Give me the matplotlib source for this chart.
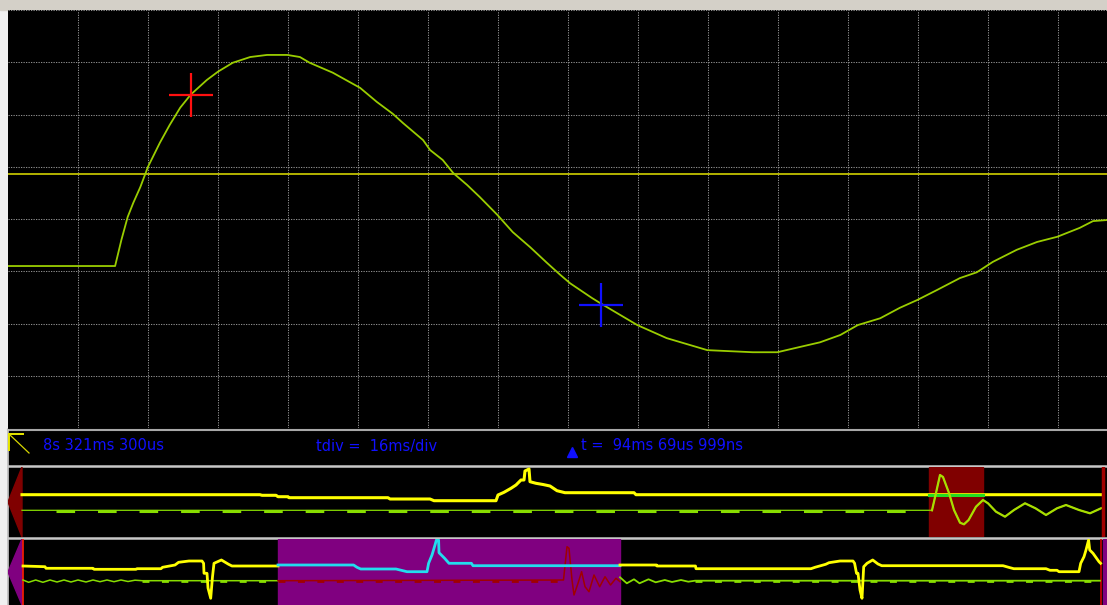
import matplotlib
matplotlib.use('Agg')
import matplotlib.pyplot as plt
from matplotlib.patches import Polygon, Rectangle

plt.rcParams['lines.scale_dashes'] = False

W, H = 1107, 605

# --- main trace (screen divisions, 16 ms/div) ---
main_x = [0, 1.53, 1.62, 1.71, 1.79, 1.89, 2.0, 2.17, 2.31, 2.46,
          2.61, 2.84, 3.0, 3.21, 3.46, 3.7, 3.99, 4.17, 4.31, 4.64,
          5.03, 5.27, 5.5, 5.64, 5.93, 6.03, 6.21, 6.36, 6.56, 6.74,
          6.99, 7.21, 7.46, 7.7, 7.89, 8.03, 8.34, 8.46, 8.99, 9.41,
          9.99, 10.64, 10.99, 11.31, 11.6, 11.89, 12.14, 12.46, 12.74, 12.99,
          13.27, 13.6, 13.84, 14.07, 14.41, 14.7, 14.99, 15.31, 15.5, 15.7]
main_y = [-0.90, -0.90, -0.40, 0.04, 0.31, 0.61, 1.00, 1.46, 1.80, 2.13,
          2.38, 2.66, 2.82, 2.99, 3.10, 3.14, 3.14, 3.10, 2.99, 2.80,
          2.51, 2.24, 2.01, 1.84, 1.51, 1.32, 1.13, 0.88, 0.65, 0.42,
          0.08, -0.25, -0.54, -0.84, -1.07, -1.23, -1.51, -1.61, -2.03, -2.28,
          -2.51, -2.55, -2.55, -2.45, -2.36, -2.22, -2.03, -1.90, -1.70, -1.55,
          -1.36, -1.13, -1.02, -0.82, -0.59, -0.44, -0.34, -0.17, -0.04, -0.02]
ref_level = 0.86
cursor_a = (2.61, 2.38)
cursor_b = (8.47, -1.65)
n_xdiv = 15.7

lbl_time = '8s 321ms 300us'
lbl_tdiv = 'tdiv =  16ms/div'
lbl_dt = 't =  94ms 69us 999ns'

# --- overview panel 1 (record position, level) ---
ov1_yel_x = [14, 252, 254, 268, 270, 280, 281, 380, 382, 422, 426, 488, 490, 496, 503, 508,
             513, 516, 517, 521, 522, 528, 535, 542, 549, 557, 626, 628, 1093]
ov1_yel_y = [42.3, 42.3, 41.7, 41.7, 40.3, 40.3, 39.3, 39.3, 38, 38, 36.3, 36.3, 42, 44.7, 48.7, 52,
             57, 57, 66, 68, 55.3, 53.7, 52.5, 51, 46.3, 44.3, 44.3, 42.3, 42.3]
ov1_grn_x = [14, 924, 928, 932, 935, 941, 946, 952, 956, 960.6, 968, 975, 980, 988, 997,
             1006, 1017, 1027.5, 1038, 1049, 1058, 1071, 1082, 1093]
ov1_grn_y = [26.7, 26.7, 44, 62, 60, 44, 27, 14.3, 12.7, 17, 30.3, 37, 33.7, 25.3, 20.3,
             27, 33.7, 28.7, 22, 28.7, 32, 27, 23.7, 28.7]
ov1_zoom = (921, 975)

# --- overview panel 2 ---
ov2_yel_a_x = [15, 37, 38, 85, 86, 128, 129, 153, 154.5, 167, 170.6, 181, 194, 195.6, 196, 199,
               200, 202.7, 204.5, 206, 213.4, 220.6, 224, 270]
ov2_yel_a_y = [39, 38.3, 36.7, 36.7, 35.7, 35.7, 36.3, 36.3, 37.7, 40, 42.7, 44, 44, 41.7, 31.7, 31.7,
               17, 6.7, 28.3, 41.7, 45, 40.7, 39, 39]
ov2_cyan_x = [270, 345.6, 349, 352.7, 388, 399, 419, 420.6, 424, 427, 428.4, 430.6, 431, 436.6,
              441, 463.4, 465, 612]
ov2_cyan_y = [40, 40, 37.7, 36, 36, 33.3, 33.3, 41.7, 50, 60, 65, 65, 52.3, 46.7,
              41.7, 41.7, 39.3, 39.3]
ov2_red_x = [270, 555.5, 559, 561, 564, 566, 570, 573.6, 577, 581, 586, 591.7, 597, 602.5, 608, 612]
ov2_red_y = [24.3, 25, 58.3, 56.7, 25, 10, 21.7, 33.3, 18.3, 13.3, 30, 18.3, 28.3, 20, 26.7, 23.3]
ov2_grn_a_x = [15, 20.6, 27.7, 34.9, 42, 49, 56, 63, 70, 78, 85, 92, 99, 106, 113, 120, 127, 134, 270]
ov2_grn_a_y = [25, 22.7, 25, 22.7, 25, 23, 25, 23, 25, 23, 25, 23.3, 25, 23.3, 25, 23.5, 24.8, 24.3, 24.3]
ov2_grn_b_x = [612, 618.8, 626, 631.5, 640.5, 647.7, 656.8, 664, 673, 680.3, 687, 1092]
ov2_grn_b_y = [27.7, 21.7, 25.7, 21.7, 25.7, 22.7, 25, 23, 25, 23.3, 24.3, 24.3]
ov2_yel_b_x = [612, 648.5, 649, 687.5, 688, 803, 807, 817.7, 821, 832, 845, 846.6, 848.5, 850, 852,
               854, 855.7, 859, 864.7, 870, 873.8, 995, 1002, 1005.8, 1038, 1042, 1049, 1051, 1071,
               1072.7, 1076, 1078, 1080.6, 1081.7, 1085, 1091, 1092.6]
ov2_yel_b_y = [40, 40, 39, 39, 36.3, 36.3, 37.7, 40.7, 42.3, 44, 44, 41.7, 31.7, 31.7, 15,
               6.7, 38.3, 41.7, 45, 41, 39.3, 39.3, 37.3, 36.3, 36.3, 34.7, 34.7, 33.3, 33.3,
               41.7, 48.3, 55, 65, 55, 51.7, 43.3, 41.7]
ov2_zoom = (270, 612)

fig = plt.figure(figsize=(W / 100, H / 100), dpi=100)
fig.patch.set_facecolor('#f0f0f0')


def px_axes(x0, y0, x1, y1):
    return fig.add_axes([x0 / W, 1 - y1 / H, (x1 - x0) / W, (y1 - y0) / H])


# background / frame in pixel coordinates
bg = fig.add_axes([0, 0, 1, 1])
bg.set_xlim(0, W)
bg.set_ylim(H, 0)
bg.axis('off')
bg.add_patch(Rectangle((0, 0), W, 10, color='#d4d0c8'))
bg.add_patch(Rectangle((8, 428), W, H - 428, color='black'))
bg.plot([8, W], [429.5, 429.5], color='#a8a8a8', lw=1.5)
bg.plot([8, W], [465.5, 465.5], color='#c8c8c8', lw=1.8)
bg.plot([8, W], [537.5, 537.5], color='#c8c8c8', lw=1.8)
bg.plot([7.5, 7.5], [430, H], color='#c8c8c8', lw=1.2)
# trigger corner mark
bg.plot([8.5, 23], [433.5, 433.5], color='#e8e800', lw=1.4)
bg.plot([8.5, 8.5], [433.5, 450], color='#e8e800', lw=1.4)
bg.plot([10, 29], [435, 453], color='#d8d800', lw=0.9)
bg.text(43, 446, lbl_time, color='#1010ff', fontsize=10.5, va='center', ha='left')
bg.text(316, 446, lbl_tdiv, color='#1010ff', fontsize=10.5, va='center', ha='left')
bg.plot([572], [452], marker='^', ms=7, color='#1010ff', ls='none')
bg.text(581, 446, lbl_dt, color='#1010ff', fontsize=10.5, va='center', ha='left')

# main scope screen
ax = px_axes(8, 10, W, 428)
ax.set_facecolor('black')
ax.set_xlim(0, n_xdiv)
ax.set_ylim(-4, 4)
for s in ax.spines.values():
    s.set_visible(False)
ax.set_xticks([])
ax.set_yticks([])
grid_kw = dict(color='#8c8c8c', lw=0.75, ls=(0, (0.9, 0.9)))
for k in range(1, 16):
    ax.axvline(k, **grid_kw)
for k in range(-3, 5):
    ax.axhline(k, **grid_kw)
ax.axhline(ref_level, color='#d0d000', lw=1.2)
ax.plot(main_x, main_y, color='#9acd00', lw=1.3)
ax.plot(*cursor_a, marker='+', ms=31, mew=1.6, color='#ff1010', ls='none')
ax.plot(*cursor_b, marker='+', ms=31, mew=1.6, color='#1010ff', ls='none')


def overview(y0, y1, tri_color):
    a = px_axes(8, y0, W, y1)
    a.set_facecolor('black')
    a.set_xlim(0, 1099)
    a.set_ylim(0, y1 - y0)
    a.axis('off')
    h = y1 - y0
    a.add_patch(Polygon([[0, h / 2], [14, 0], [14, h]], closed=True, color=tri_color))
    return a, h


# overview 1
o1, h1 = overview(467, 537, '#800000')
o1.add_patch(Rectangle((ov1_zoom[0], 0), ov1_zoom[1] - ov1_zoom[0], h1, color='#800000'))
o1.plot(ov1_yel_x, ov1_yel_y, color='#ffff00', lw=2.2)
o1.plot(ov1_zoom, [42.3, 42.3], color='#22dd22', lw=2.2)
o1.plot(ov1_grn_x, ov1_grn_y, color='#88dd00', lw=0.9)
o1.plot([48, 920], [26.4, 26.4], color='#88dd00', lw=2.2, ls=(0, (13.4, 16.5)))
o1.plot(ov1_grn_x[1:], ov1_grn_y[1:], color='#a8dd00', lw=1.6)
o1.plot([1095, 1095], [0, h1], color='#a00000', lw=2.5)

# overview 2
o2, h2 = overview(539, 605, '#800080')
o2.add_patch(Rectangle((ov2_zoom[0], 0), ov2_zoom[1] - ov2_zoom[0], h2, color='#800080'))
o2.add_patch(Rectangle((1095, 0), 4, h2, color='#800080'))
o2.plot([14.5, 14.5], [0, h2], color='#ff2000', lw=1.2)
o2.plot([1093, 1093], [0, h2], color='#cc0000', lw=1.2)
o2.plot(ov2_grn_a_x, ov2_grn_a_y, color='#88dd00', lw=1.1)
o2.plot([134, 270], [24.1, 24.1], color='#88dd00', lw=2.0, ls=(0, (5, 9)))
o2.plot(ov2_red_x, ov2_red_y, color='#a00000', lw=1.1)
o2.plot([270, 555], [24.1, 24.1], color='#a00000', lw=2.0, ls=(0, (5, 9)))
o2.plot(ov2_grn_b_x, ov2_grn_b_y, color='#88dd00', lw=1.3)
o2.plot([687, 1092], [24.1, 24.1], color='#88dd00', lw=2.0, ls=(0, (5, 9)))
o2.plot(ov2_yel_a_x, ov2_yel_a_y, color='#ffff00', lw=2.0)
o2.plot(ov2_cyan_x, ov2_cyan_y, color='#22ddee', lw=2.0)
o2.plot(ov2_yel_b_x, ov2_yel_b_y, color='#ffff00', lw=2.0)

fig.savefig('out.png', dpi=100, facecolor=fig.get_facecolor())
